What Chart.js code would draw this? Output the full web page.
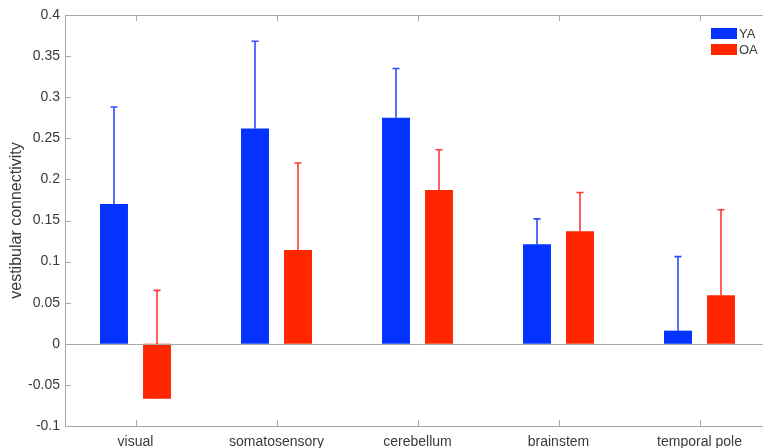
<!DOCTYPE html>
<html>
<head>
<meta charset="utf-8">
<script src="https://cdn.jsdelivr.net/npm/chart.js@4/dist/chart.umd.min.js"></script>
<style>
  html, body { margin: 0; padding: 0; background: #fff; overflow: hidden; }
  #wrap { width: 780px; height: 448px; }
</style>
</head>
<body>
<div id="wrap"><canvas id="c"></canvas></div>
<script>
"use strict";
// group means and upper error (mean + err)
const categories = ["visual", "somatosensory", "cerebellum", "brainstem", "temporal pole"];
const yaMean = [0.170, 0.262, 0.275, 0.121, 0.016];
const yaErr  = [0.118, 0.106, 0.060, 0.031, 0.090];
const oaMean = [-0.067, 0.114, 0.187, 0.137, 0.059];
const oaErr  = [0.132, 0.106, 0.049, 0.047, 0.104];
const yTicks = [-0.1, -0.05, 0, 0.05, 0.1, 0.15, 0.2, 0.25, 0.3, 0.35, 0.4];

const BLUE = "#0433ff", RED = "#ff2600";
const ERR_BLUE = "#2f4dff", ERR_RED = "#ff3b30";
const AX = "#a8a8a8", TXT = "#3a3a3a";
const FONT = "'Liberation Sans', Arial, Helvetica, sans-serif";

const errPlugin = {
  id: "errbars",
  beforeDatasetsDraw(chart){
    const ctx = chart.ctx, y = chart.scales.y;
    chart.data.datasets.forEach((ds, di) => {
      const meta = chart.getDatasetMeta(di);
      ctx.save();
      ctx.strokeStyle = ds.errColor; ctx.lineWidth = 1.6;
      meta.data.forEach((bar, i) => {
        const y1 = y.getPixelForValue(ds.data[i]);
        const y2 = y.getPixelForValue(ds.data[i] + ds.err[i]);
        ctx.beginPath();
        ctx.moveTo(bar.x, y1); ctx.lineTo(bar.x, y2);
        ctx.moveTo(bar.x - 3.5, y2); ctx.lineTo(bar.x + 3.5, y2);
        ctx.stroke();
      });
      ctx.restore();
    });
  }
};

const boxPlugin = {
  id: "box",
  afterDraw(chart){
    const ctx = chart.ctx, a = chart.chartArea, y = chart.scales.y, x = chart.scales.x;
    ctx.save();
    ctx.strokeStyle = AX; ctx.lineWidth = 1;
    ctx.strokeRect(a.left + 0.5, a.top + 0.5, a.right - a.left, a.bottom - a.top);
    const z = Math.round(y.getPixelForValue(0)) + 0.5;
    ctx.beginPath(); ctx.moveTo(a.left, z); ctx.lineTo(a.right, z);
    yTicks.forEach(v => {
      const p = Math.round(y.getPixelForValue(v)) + 0.5;
      ctx.moveTo(a.left, p); ctx.lineTo(a.left + 6, p);
      ctx.moveTo(a.right, p); ctx.lineTo(a.right - 6, p);
    });
    categories.forEach((c, i) => {
      const p = Math.round(x.getPixelForValue(i)) + 0.5;
      ctx.moveTo(p, a.bottom); ctx.lineTo(p, a.bottom - 6);
      ctx.moveTo(p, a.top); ctx.lineTo(p, a.top + 6);
    });
    ctx.stroke();
    // legend, top right inside the axes
    ctx.font = "13px " + FONT; ctx.textBaseline = "middle";
    chart.data.datasets.forEach((ds, i) => {
      const ly = a.top + 13 + i * 16;
      ctx.fillStyle = ds.backgroundColor;
      ctx.fillRect(a.right - 59, ly, 26, 11);
      ctx.fillStyle = TXT;
      ctx.fillText(ds.label, a.right - 31, ly + 6);
    });
    ctx.restore();
  }
};

new Chart(document.getElementById("c"), {
  type: "bar",
  data: {
    labels: categories,
    datasets: [
      { label: "YA", data: yaMean, err: yaErr, backgroundColor: BLUE, errColor: ERR_BLUE,
        categoryPercentage: 0.61, barPercentage: 0.65 },
      { label: "OA", data: oaMean, err: oaErr, backgroundColor: RED, errColor: ERR_RED,
        categoryPercentage: 0.61, barPercentage: 0.65 }
    ]
  },
  options: {
    responsive: true, maintainAspectRatio: false, animation: false,
    layout: { padding: { top: 15, right: 10, left: 0, bottom: 0 } },
    plugins: { legend: { display: false }, tooltip: { enabled: false } },
    scales: {
      x: {
        grid: { display: false, drawTicks: false }, border: { display: false },
        ticks: { color: TXT, font: { family: FONT, size: 14 }, padding: 8, maxRotation: 0 },
        afterFit: s => { s.height = 22; }
      },
      y: {
        min: -0.1, max: 0.4,
        grid: { display: false, drawTicks: false }, border: { display: false },
        afterBuildTicks: s => { s.ticks = yTicks.map(v => ({ value: v })); },
        ticks: { color: TXT, font: { family: FONT, size: 14 }, padding: 5,
          callback: v => String(+v.toFixed(2)) },
        title: { display: true, text: "vestibular connectivity", color: TXT,
          font: { family: FONT, size: 16 }, padding: { top: 7, bottom: 0 } },
        afterFit: s => { s.width = 65; }
      }
    }
  },
  plugins: [errPlugin, boxPlugin]
});
</script>
</body>
</html>
